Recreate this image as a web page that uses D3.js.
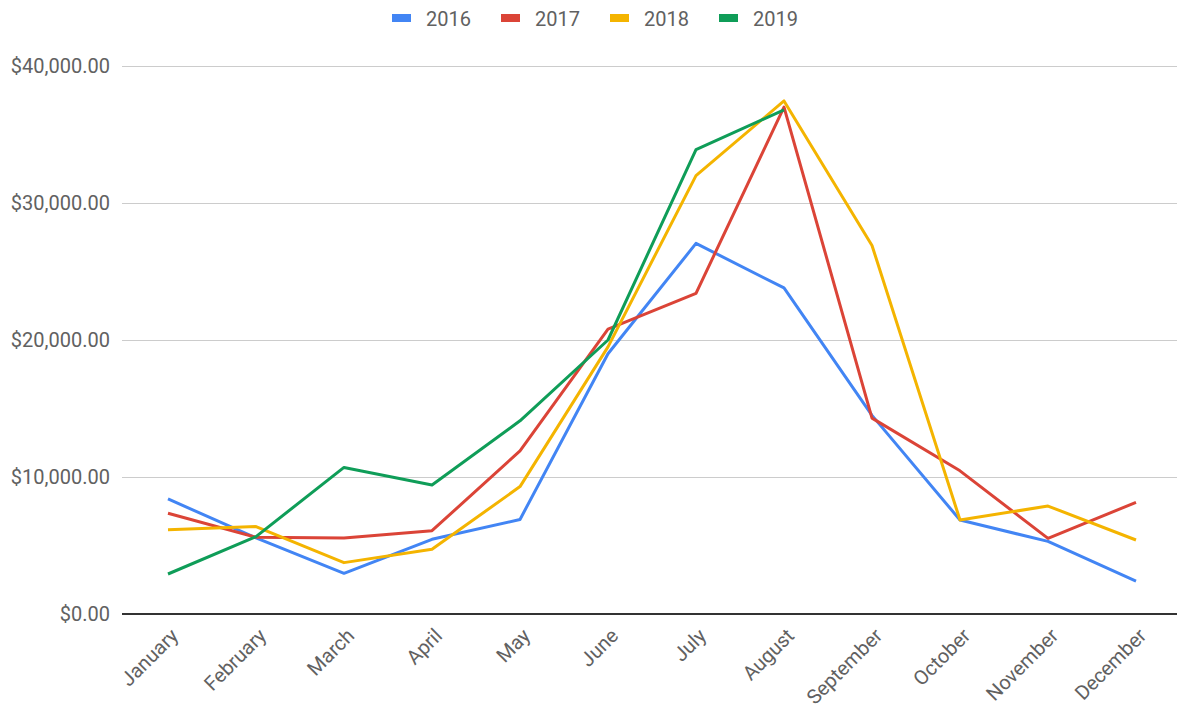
<!DOCTYPE html>
<html>
<head>
<meta charset="utf-8">
<script src="https://cdn.jsdelivr.net/npm/d3@7"></script>
<style>
  body { margin: 0; background: #fff; font-family: Roboto, 'Noto Sans', sans-serif; }
</style>
</head>
<body>
<script>
// monthly sales by year

let months = ['January', 'February', 'March', 'April', 'May', 'June', 'July', 'August', 'September', 'October', 'November', 'December']
let years = ['2016', '2017', '2018', '2019']
let sales2016 = [8400, 5550, 2970, 5450, 6900, 19000, 27050, 23800, 14500, 6860, 5300, 2400]
let sales2017 = [7350, 5600, 5550, 6080, 11900, 20800, 23400, 37000, 14300, 10450, 5520, 8150]
let sales2018 = [6150, 6380, 3750, 4720, 9300, 19500, 32000, 37450, 26900, 6860, 7880, 5400]
let sales2019 = [2920, 5650, 10700, 9420, 14100, 20000, 33900, 36800]
let yTicks = [0, 10000, 20000, 30000, 40000]
let colors = ['#4285F4', '#DB4437', '#F4B400', '#0F9D58']

let W = 1177
let H = 709
let margin = { top: 66, right: 0, bottom: 95, left: 122 }

let svg = d3.select('body')
  .append('svg')
  .attr('width', W)
  .attr('height', H)

// scales
let xScale = d3.scalePoint().domain(months).range([168, 1136])
let yScale = d3.scaleLinear().domain([0, 40000]).range([H - margin.bottom, margin.top])
let fmt = d3.format('$,.2f')

// gridlines + y labels
let yAxis = d3.axisLeft(yScale).tickValues(yTicks).tickSize(-(W - margin.left)).tickFormat(fmt).tickPadding(12)
let gy = svg.append('g')
  .attr('transform', 'translate(' + margin.left + ',0)')
  .call(yAxis)
gy.select('.domain').remove()
gy.selectAll('.tick line').attr('stroke', '#cccccc').attr('stroke-width', 1)
gy.selectAll('.tick text')
  .attr('fill', '#616161')
  .style('font-family', 'Roboto, sans-serif')
  .style('font-size', '20px')

// baseline
svg.append('line')
  .attr('x1', margin.left).attr('x2', W)
  .attr('y1', yScale(0)).attr('y2', yScale(0))
  .attr('stroke', '#333').attr('stroke-width', 2)

// x labels
let xAxis = d3.axisBottom(xScale).tickSize(0).tickPadding(0)
let gx = svg.append('g')
  .attr('transform', 'translate(0,' + yScale(0) + ')')
  .call(xAxis)
gx.select('.domain').remove()
gx.selectAll('.tick text')
  .attr('fill', '#616161')
  .style('font-family', 'Roboto, sans-serif')
  .style('font-size', '20px')
  .attr('text-anchor', 'end')
  .attr('dy', '0')
  .attr('transform', 'translate(11,23) rotate(-45)')

// lines
let allSeries = [sales2016, sales2017, sales2018, sales2019]
let line = d3.line()
  .x((d, i) => xScale(months[i]))
  .y(d => yScale(d))

allSeries.forEach((s, k) => {
  svg.append('path')
    .attr('d', line(s))
    .attr('stroke', colors[k])
    .attr('stroke-width', 3)
    .attr('stroke-linejoin', 'round')
    .attr('fill', 'none')
})

// legend
let legend = svg.append('g')
years.forEach((y, k) => {
  let lx = 392 + k * 109
  legend.append('rect')
    .attr('x', lx).attr('y', 14)
    .attr('width', 19).attr('height', 8)
    .attr('fill', colors[k])
  legend.append('text')
    .attr('x', lx + 34).attr('y', 26)
    .attr('fill', '#616161')
    .style('font-family', 'Roboto, sans-serif')
    .style('font-size', '20px')
    .text(y)
})
</script>
</body>
</html>
